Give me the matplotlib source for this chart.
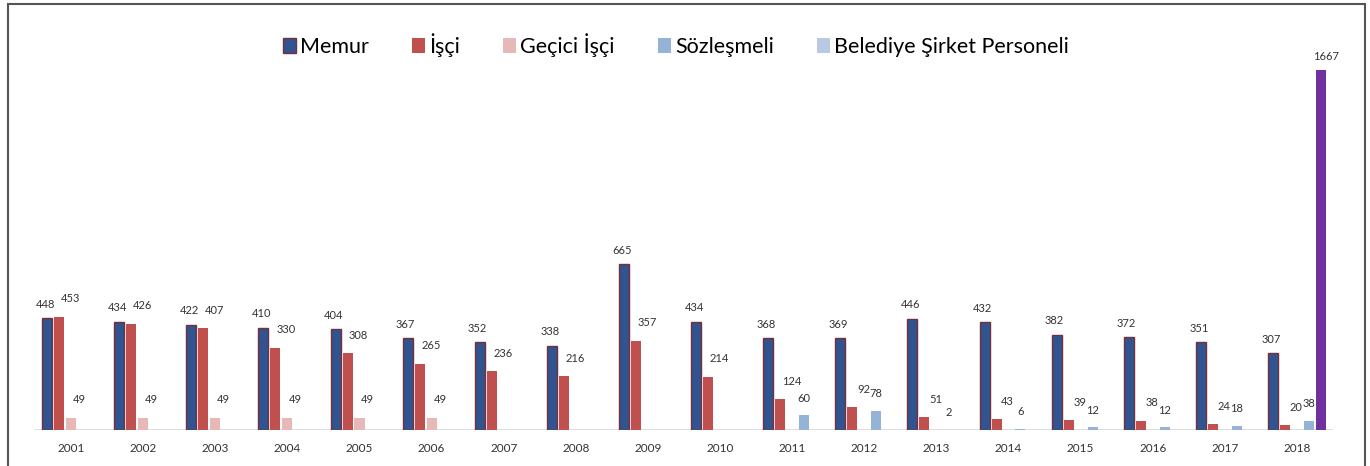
import numpy as np
import matplotlib.pyplot as plt
from matplotlib.patches import Patch, Rectangle

plt.rcParams['font.family'] = ['Lato', 'DejaVu Sans']

years = [str(y) for y in range(2001, 2019)]
memur = [448, 434, 422, 410, 404, 367, 352, 338, 665, 434, 368, 369, 446, 432, 382, 372, 351, 307]
isci = [453, 426, 407, 330, 308, 265, 236, 216, 357, 214, 124, 92, 51, 43, 39, 38, 24, 20]
gecici = [49, 49, 49, 49, 49, 49] + [np.nan] * 12
sozlesmeli = [np.nan] * 10 + [60, 78, 2, 6, 12, 12, 18, 38]
belediye = [np.nan] * 17 + [1667]

names = ['Memur', 'İşçi', 'Geçici İşçi', 'Sözleşmeli', 'Belediye Şirket Personeli']
colors = ['#2F5490', '#C0504D', '#E6B9B8', '#95B3D7', '#B9C8E3']

fig = plt.figure(figsize=(13.7, 4.66), dpi=100)
ax = fig.add_axes([35 / 1370, 36 / 466, 1298 / 1370, 370 / 466])
ax2 = ax.twinx()

x = np.arange(len(years))
w = 0.139
step = 0.166

# label offsets in points (dx, dy)
offs = [(-1.5, 6), (8, 9), (6, 9), (0, 8), (4, 6)]
series = [memur, isci, gecici, sozlesmeli]
for i, vals in enumerate(series):
    pos = x + (i - 2) * step
    edge = '#7A2E3A' if i == 0 else 'none'
    ax.bar(pos, vals, w, color=colors[i], edgecolor=edge, linewidth=1.0, zorder=3)
    for px, v in zip(pos, vals):
        if np.isnan(v):
            continue
        ax.annotate(str(int(v)), (px, v), xytext=offs[i], textcoords='offset points',
                    ha='center', va='bottom', fontsize=8, color='#333333')

# Belediye series sits on a secondary axis
pos = x + 2 * step
ax2.bar(pos, belediye, w, color='#7030A0', zorder=3)
for px, v in zip(pos, belediye):
    if np.isnan(v):
        continue
    ax2.annotate(str(int(v)), (px, v), xytext=offs[4], textcoords='offset points',
                 ha='center', va='bottom', fontsize=8, color='#333333')

ax.set_xlim(-0.5, len(years) - 0.5)
ax.set_ylim(0, 1482)
ax2.set_ylim(0, 1713)
ax.axhline(0, color='#D9D9D9', lw=2, zorder=2)
ax.set_xticks(x)
ax.set_xticklabels(years, fontsize=8.5, color='#333333')
ax.tick_params(axis='x', length=0, pad=9)
ax.set_yticks([])
ax2.set_yticks([])
for a in (ax, ax2):
    for s in a.spines.values():
        s.set_visible(False)

handles = [Patch(facecolor=colors[0], edgecolor='#7A2E3A', linewidth=1.0)]
handles += [Patch(facecolor=c) for c in colors[1:]]
fig.legend(handles, names, loc='center', bbox_to_anchor=(676 / 1370, 1 - 45 / 466),
           ncol=5, frameon=False, fontsize=15.5, handlelength=0.6, handleheight=0.7,
           handletextpad=0.2, columnspacing=2.0)

fig.add_artist(Rectangle((8 / 1370, -0.02), 1357 / 1370, 1.02 - 4 / 466,
                         transform=fig.transFigure, fill=False, edgecolor='#555555', lw=1.5))

fig.savefig('out.png', dpi=100)
